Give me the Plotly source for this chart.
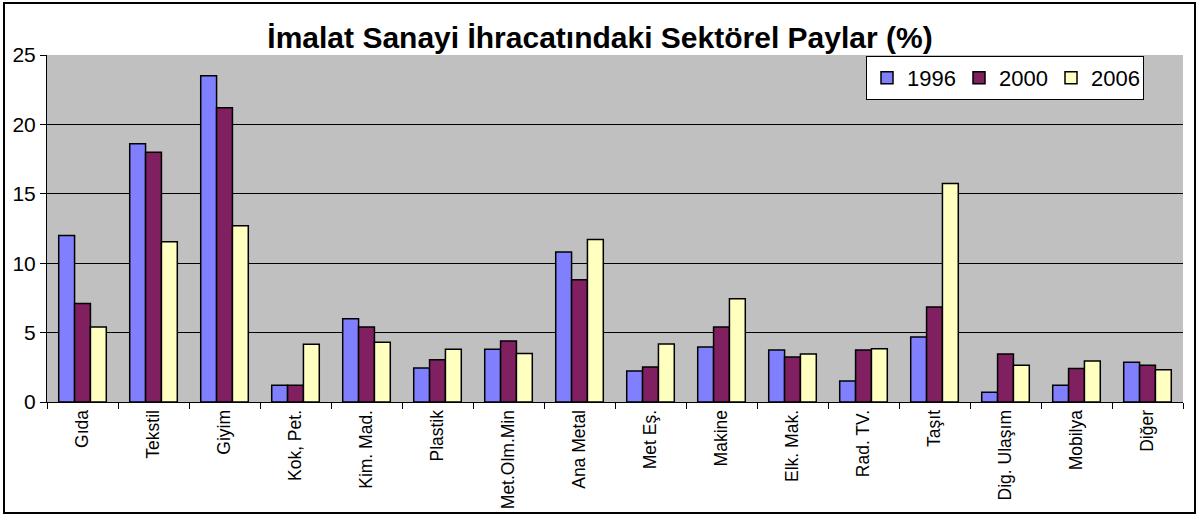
import plotly.graph_objects as go

categories = ["Gıda", "Tekstil", "Giyim", "Kok, Pet.", "Kim. Mad.", "Plastik", "Met.Olm.Min",
              "Ana Metal", "Met Eş.", "Makine", "Elk. Mak.", "Rad. TV.", "Taşıt",
              "Dig. Ulaşım", "Mobilya", "Diğer"]
v1996 = [12.0, 18.6, 23.5, 1.2, 6.0, 2.45, 3.8, 10.8, 2.23, 3.96, 3.75, 1.51, 4.68, 0.7, 1.2, 2.86]
v2000 = [7.1, 18.0, 21.2, 1.2, 5.4, 3.05, 4.4, 8.8, 2.52, 5.4, 3.24, 3.75, 6.84, 3.46, 2.42, 2.64]
v2006 = [5.4, 11.55, 12.7, 4.16, 4.3, 3.8, 3.5, 11.7, 4.18, 7.44, 3.46, 3.84, 15.75, 2.64, 2.95, 2.33]
series = [("1996", v1996, "#8080FF"), ("2000", v2000, "#802060"), ("2006", v2006, "#FFFFC0")]

fig = go.Figure()
for name, vals, col in series:
    fig.add_trace(go.Bar(name=name, x=categories, y=vals, marker_color=col,
                         marker_line=dict(color="black", width=1.5)))

W, H = 1200, 517
l, r, t, b = 47, 17, 55, 115
pw, ph = W - l - r, H - t - b

def px(x):
    return (x - l) / pw

def py(y):
    return (H - b - y) / ph

fig.update_layout(
    width=W, height=H,
    margin=dict(l=l, r=r, t=t, b=b),
    paper_bgcolor="white", plot_bgcolor="#C0C0C0",
    font=dict(family="Liberation Sans, Arial", color="black"),
    barmode="group", bargap=0.33, bargroupgap=0,
    title=dict(text="<b>İmalat Sanayi İhracatındaki Sektörel Paylar (%)</b>",
               x=0.5, xanchor="center", y=1 - 37 / H, yanchor="middle",
               font=dict(size=30, color="black")),
    legend=dict(orientation="h", x=px(866), y=py(56), xanchor="left", yanchor="top",
                bgcolor="white", bordercolor="black", borderwidth=1,
                font=dict(size=22), entrywidth=47, entrywidthmode="pixels",
                itemwidth=30, tracegroupgap=0),
    showlegend=True,
    xaxis=dict(type="category", tickangle=-90, tickfont=dict(size=17.5), automargin=False,
               showline=True, linecolor="black", linewidth=1,
               ticks="outside", tickson="boundaries", ticklen=6, tickcolor="black",
               showgrid=False),
    yaxis=dict(range=[0, 25], dtick=5, tickfont=dict(size=21), automargin=False,
               showline=True, linecolor="black", linewidth=1,
               ticks="outside", ticklen=6, tickcolor="black",
               showgrid=True, gridcolor="black", gridwidth=1, zeroline=False),
    shapes=[dict(type="rect", xref="paper", yref="paper",
                 x0=px(4), x1=px(1195), y0=py(513), y1=py(3),
                 line=dict(color="black", width=2), fillcolor="rgba(0,0,0,0)")],
)

fig.write_html("out.html", config={"displayModeBar": False},
               post_script="document.body.style.margin='0';document.body.style.overflow='hidden';")
